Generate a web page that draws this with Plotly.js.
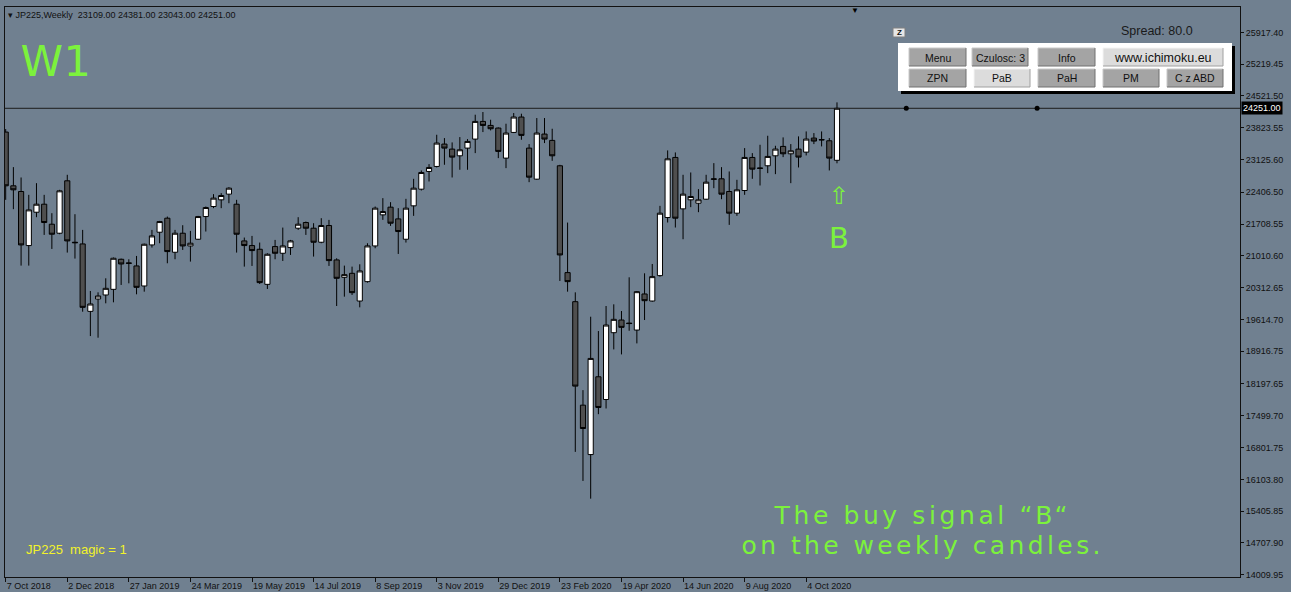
<!DOCTYPE html>
<html><head><meta charset="utf-8">
<script src="https://cdn.plot.ly/plotly-3.0.1.min.js"></script>
<style>html,body{margin:0;padding:0;background:#708090;overflow:hidden}#chart{width:1291px;height:592px}</style>
</head><body><div id="chart"></div>
<script>
// ---------------- data ----------------
const dates = [
'2018-10-07','2018-10-14','2018-10-21','2018-10-28','2018-11-04','2018-11-11','2018-11-18','2018-11-25','2018-12-02','2018-12-09','2018-12-16','2018-12-23','2018-12-30',
'2019-01-06','2019-01-13','2019-01-20','2019-01-27','2019-02-03','2019-02-10','2019-02-17','2019-02-24','2019-03-03','2019-03-10','2019-03-17','2019-03-24','2019-03-31',
'2019-04-07','2019-04-14','2019-04-21','2019-04-28','2019-05-05','2019-05-12','2019-05-19','2019-05-26','2019-06-02','2019-06-09','2019-06-16','2019-06-23','2019-06-30',
'2019-07-07','2019-07-14','2019-07-21','2019-07-28','2019-08-04','2019-08-11','2019-08-18','2019-08-25','2019-09-01','2019-09-08','2019-09-15','2019-09-22','2019-09-29',
'2019-10-06','2019-10-13','2019-10-20','2019-10-27','2019-11-03','2019-11-10','2019-11-17','2019-11-24','2019-12-01','2019-12-08','2019-12-15','2019-12-22','2019-12-29',
'2020-01-05','2020-01-12','2020-01-19','2020-01-26','2020-02-02','2020-02-09','2020-02-16','2020-02-23','2020-03-01','2020-03-08','2020-03-15','2020-03-22','2020-03-29',
'2020-04-05','2020-04-12','2020-04-19','2020-04-26','2020-05-03','2020-05-10','2020-05-17','2020-05-24','2020-05-31','2020-06-07','2020-06-14','2020-06-21','2020-06-28',
'2020-07-05','2020-07-12','2020-07-19','2020-07-26','2020-08-02','2020-08-09','2020-08-16','2020-08-23','2020-08-30','2020-09-06','2020-09-13','2020-09-20','2020-09-27',
'2020-10-04','2020-10-11','2020-10-18','2020-10-25','2020-11-01'];
const opens = [23729,22549,22424,21237,21969,22145,21706,21508,22659,21310,21273,19793,20064,
20152,20276,20936,20855,20790,20350,21251,21530,21838,21090,21508,21229,21376,
21874,22094,22241,22366,22145,21339,21237,21156,20386,21215,21068,21193,21618,
21743,21618,21310,21677,20922,20540,20628,20020,20445,21229,21911,22080,21823,
21376,22109,22475,22864,22974,23465,23355,23208,23377,23575,23963,23875,23817,
23157,23721,24059,23377,22695,23685,23546,22989,20643,20005,17733,16648,18356,
17857,19324,19602,19535,19382,20174,20020,20577,21853,23172,22043,22241,22167,
22255,22690,22703,22424,21948,22446,23172,22940,22989,23208,23414,23252,23355,
23289,23597,23565,23538,23109];
const highs = [23795,22959,22732,22351,22607,22351,21948,22461,22791,21926,21581,20240,20210,
20518,20975,20951,20936,21009,21280,21581,21779,21874,21581,21684,21559,21889,
22094,22366,22388,22519,22241,21413,21449,21303,21068,21361,21632,21361,21860,
21764,21728,21838,21801,20958,20797,20775,20826,21288,22094,22278,22190,22058,
22263,22703,22886,23025,23670,23597,23502,23619,23575,24110,24169,24000,23831,
23912,24147,24132,23465,24037,24037,23802,23010,21742,20210,18063,19675,19360,
19910,19947,19800,20540,20240,20628,20833,22109,23326,23282,22791,22842,22476,
22791,23047,22959,22864,22681,23377,23267,23450,23648,23428,23612,23465,23634,
23743,23707,23743,23597,24381];
const lows = [22241,22036,20797,20797,21860,21471,21163,21486,21083,20951,19785,19250,19214,
19969,19991,20372,20408,20167,20225,21193,21288,20848,20936,21141,20885,21361,
21545,22058,22058,22167,21083,20775,20790,20394,20284,20936,20899,21031,21581,
21471,20995,21288,20790,19910,20115,20152,19881,20423,21178,21801,21669,21053,
21303,21889,22446,22644,22952,23011,22732,22901,22901,23267,23729,23765,23157,
22937,23707,23560,22629,22681,23487,23098,20460,20225,16707,16069,15680,17535,
17660,18957,18847,19367,19089,19602,20005,20555,21743,21633,21376,22080,21970,
22241,22497,22255,21691,21889,22351,22703,22556,22827,22805,23179,22607,22952,
23216,23465,23414,22886,23043];
const closes = [22549,22461,21251,22021,22145,21743,21486,22439,21339,21300,19881,19954,20130,
20298,20958,20833,20848,20320,21266,21449,21764,21105,21508,21229,21288,21874,
22072,22278,22336,22497,21486,21237,21127,20423,21046,21068,21229,21339,21706,
21618,21310,21677,20907,20518,20599,20203,20680,21229,22058,21984,21728,21545,
22058,22497,22842,22952,23487,23377,23179,23340,23523,23963,23875,23802,23304,
23707,24059,23656,22739,23707,23575,23208,21031,20445,18151,17220,18759,17682,
19492,19617,19441,19525,20225,20027,20555,21948,23142,21838,22366,22314,22241,
22629,22700,22366,21948,22461,23172,22915,22933,23194,23355,23252,23318,23179,
23575,23531,23558,23157,24251];
const yTickVals = [25917.40,25219.45,24521.50,23823.55,23125.60,22406.50,21708.55,21010.60,20312.65,19614.70,18916.75,18197.65,17499.70,16801.75,16103.80,15405.85,14707.90,14009.95];
const yTickText = ['25917.40','25219.45','24521.50','23823.55','23125.60','22406.50','21708.55','21010.60','20312.65','19614.70','18916.75','18197.65','17499.70','16801.75','16103.80','15405.85','14707.90','14009.95'];
const xTickVals = ['2018-10-07','2018-12-02','2019-01-27','2019-03-24','2019-05-19','2019-07-14','2019-09-08','2019-11-03','2019-12-29','2020-02-23','2020-04-19','2020-06-14','2020-08-09','2020-10-04'];
const xTickText = ['7 Oct 2018','2 Dec 2018','27 Jan 2019','24 Mar 2019','19 May 2019','14 Jul 2019','8 Sep 2019','3 Nov 2019','29 Dec 2019','23 Feb 2020','19 Apr 2020','14 Jun 2020','9 Aug 2020','4 Oct 2020'];
const lastPrice = 24251.00;
const lastPriceLabel = '24251.00';
const markerDates = ['2021-01-03','2021-05-02'];
const markerPrices = [24251.00, 24251.00];
const signalDate = '2020-11-01';
const headerText = '\u25BE JP225,Weekly\u00a0\u00a023109.00 24381.00 23043.00 24251.00';
const buttonRow1 = ['Menu','Czulosc: 3','Info','www.ichimoku.eu'];
const buttonRow2 = ['ZPN','PaB','PaH','PM','C z ABD'];

// ---------------- geometry helpers (pixels -> paper) ----------------
const W=1291,H=592,ML=5,MR=51,MT=7,MB=15;
const PW=W-ML-MR, PH=H-MT-MB;
const px = x => (x-ML)/PW;
const py = y => (H-MB-y)/PH;
const GREEN = '#7CF23C';

const shapes = [];
const annotations = [];
const spaced = [];
function rect(x0,y0,x1,y1,fill,line,lw){
  shapes.push({type:'rect',xref:'paper',yref:'paper',x0:px(x0),x1:px(x1),y0:py(y1),y1:py(y0),
    fillcolor:fill,line:{color:line||fill,width:lw===undefined?0:lw},layer:'above'});
}
function seg(x0,y0,x1,y1,color){
  shapes.push({type:'line',xref:'paper',yref:'paper',x0:px(x0),x1:px(x1),y0:py(y0),y1:py(y1),
    line:{color:color,width:1},layer:'above'});
}
function txt(x,y,text,size,color,xanchor,family,extra){
  annotations.push(Object.assign({xref:'paper',yref:'paper',x:px(x),y:py(y),text:text,showarrow:false,
    xanchor:xanchor||'center',yanchor:'middle',font:{size:size,color:color,family:family||'Liberation Sans, Arial, sans-serif'},borderpad:0},extra||{}));
  return annotations.length-1;
}

// price line
shapes.push({type:'line',xref:'paper',yref:'y',x0:0,x1:1,y0:lastPrice,y1:lastPrice,line:{color:'#1c1c1c',width:1},layer:'below'});

// panel
rect(901,46,1235,94,'#000000');
rect(898,43,1232,91,'#ffffff');
function button(x0,y0,x1,y1,label,light,size){
  rect(x0,y0,x1,y1,light?'#dcdcdc':'#a4a4a4');
  seg(x0,y0,x1,y0,light?'#f4f4f4':'#c8c8c8');
  seg(x0,y0,x0,y1,light?'#f4f4f4':'#c8c8c8');
  seg(x0,y1,x1,y1,light?'#a0a0a0':'#707070');
  seg(x1,y0,x1,y1,light?'#a0a0a0':'#707070');
  txt((x0+x1)/2,(y0+y1)/2+0.5,label,size||10.5,'#111');
}
const r1x=[[909,966],[972,1028],[1038,1095],[1103,1223]];
const r2x=[[909,966],[974,1030],[1038,1095],[1103,1159],[1167,1223]];
buttonRow1.forEach((b,i)=>button(r1x[i][0],48,r1x[i][1],66,b,i===3,i===3?12.5:10.5));
buttonRow2.forEach((b,i)=>button(r2x[i][0],69,r2x[i][1],87,b,i===1,10.5));
// Z box
rect(893,28,905,37,'#e6e6e6','#808080',1);
txt(899,32.5,'<b>Z</b>',8,'#111');
// spread
txt(1120,31,'Spread: 80.0',12.5,'#1a1a1a','left');
// header
txt(7,15,headerText,9,'#111','left','Liberation Sans, Arial, sans-serif');
// W1
spaced.push([txt(55.5,61,'W1',43,GREEN,'center','DejaVu Sans, sans-serif'),'0.5px']);
// magic
txt(25,549,'JP225\u00a0\u00a0magic = 1',13,'#f2f22a','left');
// bottom caption
spaced.push([txt(923,515,'The buy signal \u201cB\u201c',25,GREEN,'center','DejaVu Sans, sans-serif'),'3.6px']);
spaced.push([txt(923,545,'on the weekly candles.',25,GREEN,'center','DejaVu Sans, sans-serif'),'3.4px']);
// signal arrow and letter at the signal candle
annotations.push({xref:'x',yref:'paper',x:signalDate,xshift:2,y:py(196),text:'\u21e7',showarrow:false,xanchor:'center',yanchor:'middle',font:{size:24,color:GREEN,family:'DejaVu Sans, sans-serif'}});
annotations.push({xref:'x',yref:'paper',x:signalDate,xshift:2,y:py(238),text:'B',showarrow:false,xanchor:'center',yanchor:'middle',font:{size:29,color:GREEN,family:'DejaVu Sans, sans-serif'}});
// last price label on axis
annotations.push({xref:'paper',yref:'y',x:1,xshift:1,y:lastPrice,text:lastPriceLabel,showarrow:false,xanchor:'left',yanchor:'middle',
  font:{size:9,color:'#ffffff',family:'Liberation Sans, Arial, sans-serif'},bgcolor:'#000000',borderpad:1});
// chart shift marker
txt(855,10,'\u25BC',8,'#000');

const traces = [
 {type:'candlestick',x:dates,open:opens,high:highs,low:lows,close:closes,
  increasing:{line:{color:'#000000',width:1},fillcolor:'#ffffff'},
  decreasing:{line:{color:'#000000',width:1},fillcolor:'#4f4f4f'},
  whiskerwidth:0,hoverinfo:'none',showlegend:false},
 {type:'scatter',mode:'markers',x:markerDates,y:markerPrices,marker:{color:'#000',size:5},hoverinfo:'none',showlegend:false}
];

const layout = {
  width:W,height:H,margin:{l:ML,r:MR,t:MT,b:MB,pad:0},
  paper_bgcolor:'#708090',plot_bgcolor:'#708090',
  showlegend:false,hovermode:false,boxgap:0.33,boxgroupgap:0,
  xaxis:{type:'date',range:['2018-10-06 09:00','2021-11-02 12:00'],rangeslider:{visible:false},
    tickvals:xTickVals,ticktext:xTickText,ticks:'outside',ticklen:4,tickcolor:'#111',ticklabelposition:'outside right',
    tickfont:{size:9,color:'#111',family:'Liberation Sans, Arial, sans-serif'},
    showline:true,mirror:true,linecolor:'#111',linewidth:1,showgrid:false,zeroline:false,fixedrange:true},
  yaxis:{side:'right',range:[13960,26475],tickvals:yTickVals,ticktext:yTickText,ticks:'outside',ticklen:3,tickcolor:'#111',
    tickfont:{size:9,color:'#111',family:'Liberation Sans, Arial, sans-serif'},
    showline:true,mirror:true,linecolor:'#111',linewidth:1,showgrid:false,zeroline:false,fixedrange:true},
  shapes:shapes,annotations:annotations
};
Plotly.newPlot('chart',traces,layout,{displayModeBar:false,staticPlot:true}).then(gd=>{
  spaced.forEach(([idx,ls])=>{
    const g = gd.querySelector('.annotation[data-index="'+idx+'"] text');
    if(g) g.style.letterSpacing = ls;
  });
});
</script></body></html>
